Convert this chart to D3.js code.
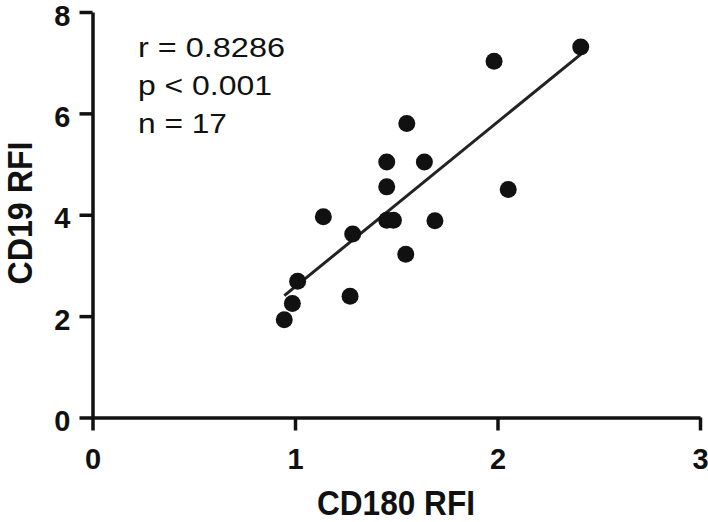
<!DOCTYPE html>
<html>
<head>
<meta charset="utf-8">
<script src="https://cdn.jsdelivr.net/npm/d3@7"></script>
<style>
    body { margin: 0; background: #fff; }
    svg { display: block; }
    text { font-family: "Liberation Sans", Arial, sans-serif; fill: #111; }
</style>
</head>
<body>
<div id="chart"></div>
<script>
// CD180 RFI (x) vs CD19 RFI (y)
const cd180 = [1.552, 1.453, 1.639, 1.453, 2.053, 1.140, 1.453, 1.486, 1.691,
               1.285, 1.547, 1.013, 1.272, 0.987, 0.947, 2.411, 1.983];
const cd19  = [5.80, 5.04, 5.04, 4.55, 4.50, 3.96, 3.89, 3.89, 3.88,
               3.62, 3.22, 2.69, 2.39, 2.25, 1.93, 7.31, 7.03];

const xTicks = [0, 1, 2, 3];
const yTicks = [0, 2, 4, 6, 8];
const statLines = ['r = 0.8286', 'p < 0.001', 'n = 17'];

const width = 708, height = 522;

// plot area (axis origin and far ends)
let x = d3.scaleLinear().domain([0, 3]).range([92.5, 700]);
let y = d3.scaleLinear().domain([0, 8]).range([417.5, 12]);

let svg = d3.select('#chart').append('svg')
    .attr('width', width)
    .attr('height', height);

// axes
let xAxis = svg.append('g')
    .attr('transform', `translate(0,${y(0)})`)
    .call(d3.axisBottom(x).tickValues(xTicks).tickFormat(d3.format('d'))
        .tickSize(13).tickSizeOuter(0).tickPadding(18));

let yAxis = svg.append('g')
    .attr('transform', `translate(${x(0)},0)`)
    .call(d3.axisLeft(y).tickValues(yTicks).tickFormat(d3.format('d'))
        .tickSize(13).tickSizeOuter(0).tickPadding(9));

[xAxis, yAxis].forEach(function(a) {
    a.select('.domain').attr('stroke', '#111').attr('stroke-width', 3.5);
    a.selectAll('.tick line').attr('stroke', '#111').attr('stroke-width', 3.5);
    a.selectAll('.tick text')
        .style('font-size', '29px')
        .style('font-weight', 'bold')
        .attr('fill', '#111');
});
yAxis.selectAll('.tick text').attr('dy', '0.45em');

// axis titles
svg.append('text')
    .attr('x', 396)
    .attr('y', 515)
    .attr('text-anchor', 'middle')
    .attr('textLength', 158)
    .attr('lengthAdjust', 'spacingAndGlyphs')
    .style('font-size', '35px')
    .style('font-weight', 'bold')
    .text('CD180 RFI');

svg.append('text')
    .attr('transform', 'translate(32,213) rotate(-90)')
    .attr('text-anchor', 'middle')
    .attr('textLength', 143)
    .attr('lengthAdjust', 'spacingAndGlyphs')
    .style('font-size', '35px')
    .style('font-weight', 'bold')
    .text('CD19 RFI');

// linear regression line over the x range of the data
let mx = d3.mean(cd180), my = d3.mean(cd19);
let sxy = d3.sum(cd180, (d, i) => (d - mx) * (cd19[i] - my));
let sxx = d3.sum(cd180, d => (d - mx) * (d - mx));
let slope = sxy / sxx, intercept = my - slope * mx;
let xr = d3.extent(cd180);

svg.append('line')
    .attr('x1', x(xr[0])).attr('y1', y(intercept + slope * xr[0]))
    .attr('x2', x(xr[1])).attr('y2', y(intercept + slope * xr[1]))
    .attr('stroke', '#222')
    .attr('stroke-width', 3);

// points
svg.append('g').selectAll('circle')
    .data(cd180)
    .join('circle')
    .attr('cx', d => x(d))
    .attr('cy', (d, i) => y(cd19[i]))
    .attr('r', 8.5)
    .attr('fill', '#111');

// stats annotation
const statWidths = [147, 134, 89];
svg.append('g').selectAll('text')
    .data(statLines)
    .join('text')
    .attr('x', 138)
    .attr('y', (d, i) => 57 + i * 38)
    .attr('textLength', (d, i) => statWidths[i])
    .attr('lengthAdjust', 'spacingAndGlyphs')
    .style('font-size', '27px')
    .text(d => d);
</script>
</body>
</html>
